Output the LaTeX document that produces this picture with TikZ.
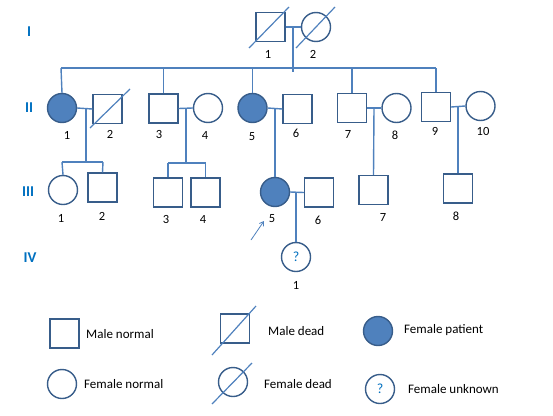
\documentclass[tikz,border=0pt]{standalone}
\usepackage{fontspec}
\setmainfont{Carlito}
\usetikzlibrary{arrows.meta}
\definecolor{fillb}{RGB}{79,129,189}
\definecolor{edgeb}{RGB}{56,93,138}
\definecolor{lineb}{RGB}{79,129,189}
\definecolor{genb}{RGB}{0,112,192}
\begin{document}
\begin{tikzpicture}[x=1pt,y=-1pt,
  male/.style={draw=edgeb,line width=1.4pt,minimum size=29pt,inner sep=0pt,rectangle,fill=white},
  female/.style={draw=edgeb,line width=1.4pt,minimum size=29pt,inner sep=0pt,circle,fill=white},
  patient/.style={female,fill=fillb},
  conn/.style={draw=lineb,line width=1.4pt},
  dead/.style={draw=lineb,line width=1.2pt},
  num/.style={font=\fontsize{12.5}{14}\selectfont,inner sep=0pt},
  gen/.style={font=\fontsize{15}{17}\selectfont\bfseries,text=genb,inner sep=0pt},
  leg/.style={font=\fontsize{13}{15}\selectfont,inner sep=0pt,anchor=west},
  q/.style={font=\fontsize{14}{16}\selectfont,text=genb,inner sep=0pt}]
\useasboundingbox (0,0) rectangle (553,415);
% generation labels
\node[gen] (gI) at (29,32) {I};
\node[gen] (gII) at (29,108) {II};
\node[gen] (gIII) at (28,192) {III};
\node[gen] (gIV) at (30,258) {IV};
% Generation I
\node[male] (I1) at (270.5,27) {};
\node[female] (I2) at (316,27) {};
\coordinate (d1a) at (249,48); \coordinate (d1b) at (289,7);
\coordinate (d2a) at (296,48); \coordinate (d2b) at (335,7);
\draw[dead] (d1a) -- (d1b);
\draw[dead] (d2a) -- (d2b);
\node[num] (lI1) at (268,54) {1};
\node[num] (lI2) at (313,54) {2};
\coordinate (mI) at (293,27);
\draw[conn] (I1.east) -- (I2.west);
\coordinate (sibL) at (61,68);
\coordinate (sibR) at (436,68);
\coordinate (mIb) at (293,72);
\draw[conn] (mI) -- (mIb);
\draw[conn] (sibL) -- (sibR);
% Generation II
\node[patient] (II1) at (62,108) {};
\node[male] (II2) at (107.5,109) {};
\draw[dead] (90,128) coordinate (d3a) -- (130,89) coordinate (d3b);
\node[male] (II3) at (163.5,108.5) {};
\node[female] (II4) at (208,108) {};
\node[patient] (II5) at (252.5,108) {};
\node[male] (II6) at (297.5,109) {};
\node[male] (II7) at (352,108) {};
\node[female] (II8) at (396.5,108) {};
\node[male] (II9) at (436,107) {};
\node[female] (II10) at (480.5,106) {};
\draw[conn] (sibL) -- (II1.north);
\draw[conn] (163.5,68) -- (II3.north);
\draw[conn] (252.5,68) -- (II5.north);
\draw[conn] (352,68) -- (II7.north);
\draw[conn] (sibR) -- (II9.north);
\draw[conn] (II1.east) -- (II2.west);
\draw[conn] (II3.east) -- (II4.west);
\draw[conn] (II5.east) -- (II6.west);
\draw[conn] (II7.east) -- (II8.west);
\draw[conn] (II9.east) -- (II10.west);
\node[num] (lII1) at (67,135) {1};
\node[num] (lII2) at (110,134) {2};
\node[num] (lII3) at (159,134) {3};
\node[num] (lII4) at (205,135) {4};
\node[num] (lII5) at (252,137) {5};
\node[num] (lII6) at (296,133) {6};
\node[num] (lII7) at (348,134) {7};
\node[num] (lII8) at (395,135) {8};
\node[num] (lII9) at (435,131) {9};
\node[num] (lII10) at (483,131) {10};
% Generation III
\node[female] (III1) at (63,190) {};
\node[male] (III2) at (102.5,187.5) {};
\node[male] (III3) at (168,192.5) {};
\node[male] (III4) at (205.5,192.5) {};
\node[patient] (III5) at (275,192) {};
\node[male] (III6) at (319,192.5) {};
\node[male] (III7) at (373.5,190) {};
\node[male] (III8) at (458,188.5) {};
% descents
\draw[conn] (86,108) -- (86,162);
\draw[conn] (62,162) -- (103,162);
\draw[conn] (62,162) -- (III1.north);
\draw[conn] (103,162) -- (III2.north);
\draw[conn] (186,108) -- (186,163);
\draw[conn] (168,163) -- (205.5,163);
\draw[conn] (168,163) -- (III3.north);
\draw[conn] (205.5,163) -- (III4.north);
\draw[conn] (275,109) -- (III5.north);
\draw[conn] (374,108) -- (III7.north);
\draw[conn] (458,107) -- (III8.north);
\draw[conn] (III5.east) -- (III6.west);
\node[num] (lIII1) at (61,218) {1};
\node[num] (lIII2) at (102,216) {2};
\node[num] (lIII3) at (166,219) {3};
\node[num] (lIII4) at (203,219) {4};
\node[num] (lIII5) at (272,219) {5};
\node[num] (lIII6) at (318,220) {6};
\node[num] (lIII7) at (383,217) {7};
\node[num] (lIII8) at (456,216) {8};
\coordinate (arrA) at (251,240);
\coordinate (arrB) at (264,221);
\draw[draw=lineb,line width=0.8pt,-{Straight Barb[length=4pt,width=5pt]}] (arrA) -- (arrB);
% Generation IV
\node[female] (IV1) at (296,257) {};
\node[q] (qIV1) at (IV1.center) {?};
\draw[conn] (296,192) -- (IV1.north);
\node[num] (lIV1) at (296,285) {1};
% Legend
\node[male] (Lm) at (64.5,333.5) {};
\node[leg] (tLm) at (86,334) {Male normal};
\node[male] (Lmd) at (235,328.5) {};
\draw[dead] (212,355) coordinate (d4a) -- (256,306) coordinate (d4b);
\node[leg] (tLmd) at (268,331) {Male dead};
\node[patient] (Lfp) at (378,331) {};
\node[leg] (tLfp) at (404,330) {Female patient};
\node[female] (Lf) at (62,384) {};
\node[leg] (tLf) at (84,384) {Female normal};
\node[female] (Lfd) at (233,382) {};
\draw[dead] (212,404) coordinate (d5a) -- (252,363) coordinate (d5b);
\node[leg] (tLfd) at (264,384) {Female dead};
\node[female] (Lfu) at (380,389) {};
\node[q] (qLfu) at (Lfu.center) {?};
\node[leg] (tLfu) at (408,389) {Female unknown};
\end{tikzpicture}
\end{document}
